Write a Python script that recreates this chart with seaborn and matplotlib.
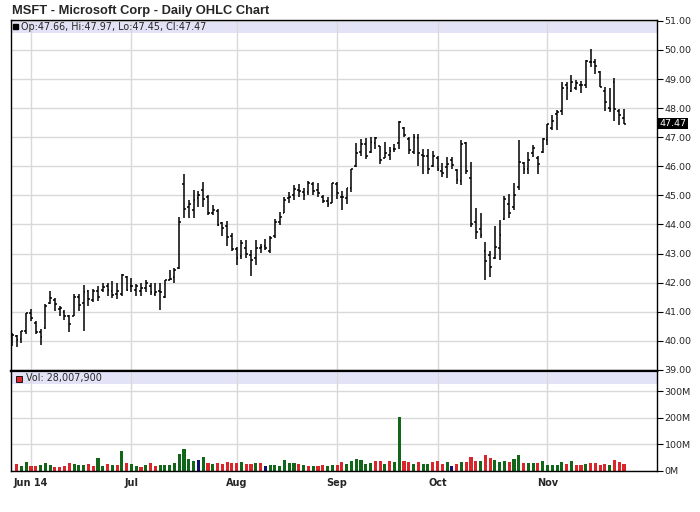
import numpy as np
import pandas as pd
import seaborn as sns
import matplotlib
matplotlib.use("Agg")
import matplotlib.pyplot as plt
from matplotlib.patches import Rectangle
from matplotlib.lines import Line2D

# trading days, 27 May 2014 - 25 Nov 2014 (market holidays removed)
holidays = pd.to_datetime(["2014-07-04", "2014-09-01"])
dates = pd.bdate_range("2014-05-27", "2014-11-25")
dates = dates[~dates.isin(holidays)]

opens = [39.95, 40.15, 40.05, 40.35, 40.95, 40.60, 40.30, 40.45, 41.30, 41.40,
         41.10, 41.00, 40.85, 40.85, 41.50, 41.30, 41.70, 41.40, 41.70, 41.75,
         41.90, 41.70, 41.60, 41.60, 42.20, 41.90, 41.75, 41.70, 41.80, 41.90,
         41.60, 41.70, 41.50, 42.10, 42.20, 42.50, 45.40, 44.60, 44.50, 44.90,
         45.20, 44.95, 44.40, 44.45, 44.05, 43.95, 43.60, 43.15, 42.90, 43.20,
         42.95, 42.85, 43.20, 43.25, 43.10, 43.60, 44.10, 44.40, 44.90, 45.00,
         45.20, 45.10, 45.10, 45.40, 45.20, 44.95, 44.80, 44.75, 45.40, 44.95,
         44.90, 45.25, 46.00, 46.50, 46.75, 46.50, 46.80, 46.70, 46.30, 46.40,
         46.60, 46.80, 47.30, 46.95, 46.48, 46.98, 46.40, 46.35, 46.00, 46.27,
         45.83, 45.98, 46.20, 45.86, 45.48, 46.80, 45.60, 44.10, 43.83, 43.10,
         42.95, 42.85, 43.20, 44.20, 44.70, 44.60, 45.30, 46.10, 45.90, 46.45,
         46.30, 46.50, 46.90, 47.30, 47.80, 47.90, 48.80, 48.60, 48.70, 48.80,
         48.80, 49.60, 49.60, 49.25, 48.60, 48.00, 48.90, 47.90, 47.66]
highs = [40.28, 40.20, 40.33, 40.96, 41.10, 40.67, 40.39, 41.28, 41.70, 41.47,
         41.19, 41.07, 40.90, 41.60, 41.62, 41.93, 41.76, 41.78, 41.87, 42.00,
         41.99, 42.07, 42.00, 42.30, 42.24, 42.16, 41.96, 42.00, 42.10, 42.00,
         41.99, 42.00, 42.10, 42.44, 42.50, 44.27, 45.73, 44.84, 45.18, 45.16,
         45.46, 45.00, 44.67, 44.52, 44.10, 44.13, 43.70, 43.24, 43.47, 43.47,
         43.13, 43.47, 43.33, 43.49, 43.60, 44.18, 44.44, 44.95, 45.12, 45.37,
         45.40, 45.27, 45.50, 45.45, 45.43, 45.00, 44.95, 45.44, 45.47, 45.15,
         45.26, 45.92, 46.79, 46.94, 46.97, 47.00, 47.02, 46.71, 46.82, 46.67,
         46.77, 47.57, 47.34, 47.00, 47.10, 47.10, 46.59, 46.59, 46.54, 46.37,
         46.11, 46.32, 46.31, 45.92, 46.89, 46.83, 46.14, 44.55, 44.40, 43.38,
         43.10, 43.94, 44.15, 44.98, 45.06, 45.43, 46.89, 46.13, 46.50, 46.73,
         46.37, 46.98, 47.46, 47.75, 47.92, 48.89, 48.89, 49.15, 48.95, 48.93,
         49.66, 50.03, 49.69, 49.29, 48.72, 48.70, 49.04, 47.98, 47.97]
lows = [39.82, 39.80, 39.93, 40.22, 40.67, 40.22, 39.85, 40.39, 41.25, 41.02,
        40.85, 40.73, 40.30, 40.85, 41.02, 40.33, 41.19, 41.32, 41.36, 41.67,
        41.55, 41.47, 41.42, 41.53, 41.70, 41.67, 41.53, 41.55, 41.67, 41.59,
        41.53, 41.05, 41.47, 42.08, 42.00, 42.47, 44.21, 44.21, 44.21, 44.59,
        44.61, 44.32, 44.32, 43.95, 43.60, 43.26, 43.10, 42.60, 42.81, 42.84,
        42.21, 42.61, 43.03, 43.13, 43.03, 43.53, 43.98, 44.38, 44.72, 44.84,
        44.95, 44.84, 45.00, 45.00, 44.95, 44.72, 44.61, 44.72, 44.86, 44.50,
        44.71, 45.10, 45.97, 46.37, 46.25, 46.45, 46.59, 46.08, 46.29, 46.22,
        46.48, 46.59, 46.99, 46.42, 46.42, 46.02, 45.74, 45.74, 45.97, 45.85,
        45.63, 45.61, 45.92, 45.38, 45.34, 45.75, 43.92, 43.49, 43.55, 42.09,
        42.20, 42.80, 42.79, 44.15, 44.21, 44.49, 45.18, 45.72, 45.75, 46.33,
        45.75, 46.46, 46.72, 47.26, 47.26, 47.78, 48.29, 48.55, 48.61, 48.51,
        48.70, 49.41, 49.18, 48.72, 47.90, 47.86, 47.55, 47.41, 47.45]
closes = [40.19, 40.02, 40.34, 40.94, 40.79, 40.29, 40.12, 41.20, 41.48, 41.27,
          41.11, 40.86, 40.58, 41.50, 41.23, 41.68, 41.43, 41.71, 41.50, 41.85,
          41.74, 41.59, 41.70, 42.25, 41.73, 41.87, 41.90, 41.80, 41.99, 41.69,
          41.67, 41.69, 42.09, 42.14, 42.45, 44.08, 44.53, 44.69, 44.84, 45.00,
          44.87, 44.40, 44.50, 43.97, 43.89, 43.58, 43.16, 42.86, 43.37, 42.98,
          42.76, 43.20, 43.23, 43.20, 43.52, 44.08, 44.27, 44.83, 44.95, 45.22,
          45.16, 45.02, 45.43, 45.16, 45.07, 44.79, 44.69, 45.43, 45.09, 44.96,
          45.25, 45.91, 46.47, 46.76, 46.36, 46.84, 46.96, 46.21, 46.44, 46.52,
          46.58, 47.52, 47.06, 46.56, 47.00, 46.44, 46.36, 45.90, 46.36, 45.90,
          45.76, 46.09, 46.05, 45.53, 46.78, 45.85, 44.03, 43.73, 43.63, 42.74,
          42.53, 43.23, 43.63, 44.88, 44.38, 45.02, 46.13, 45.91, 46.23, 46.62,
          46.09, 46.95, 47.44, 47.57, 47.86, 48.70, 48.68, 48.89, 48.87, 48.78,
          49.61, 49.58, 49.46, 48.74, 48.22, 47.98, 47.98, 47.75, 47.47]

# volume in millions, from 28 May (first day has no volume bar on the chart)
volume = [27, 19, 34, 19, 19, 23, 30, 23, 15, 15,
          19, 30, 27, 23, 23, 27, 19, 49, 19, 27,
          23, 23, 76, 30, 27, 19, 15, 23, 30, 19,
          23, 23, 23, 30, 65, 84, 46, 38, 42, 53,
          30, 27, 30, 27, 34, 30, 30, 34, 27, 27,
          30, 30, 19, 23, 23, 19, 42, 30, 30, 27,
          23, 19, 19, 19, 23, 19, 23, 23, 34, 27,
          38, 46, 42, 27, 30, 38, 38, 27, 38, 34,
          204, 38, 34, 27, 34, 27, 27, 34, 38, 27,
          34, 19, 27, 34, 34, 53, 38, 38, 61, 49,
          42, 34, 38, 34, 46, 61, 30, 30, 30, 30,
          38, 23, 23, 23, 34, 27, 38, 23, 23, 27,
          30, 30, 23, 27, 23, 42, 34, 28]
# g = up day, r = down day, n = unchanged
vol_dir = "".join(["rggrrgggrr", "rrgggrrggr", "grgrggrgrr", "ggggggggng",
                   "rgrrrrrgrr", "grnggggggr", "grgrrggrrg", "gggggrrgrg",
                   "grrgrggrrr", "gnrgrrrgrr", "gggrggrggr", "gggggrgrrg",
                   "rrrrgrrr"])

month_labels = ["Jun 14", "Jul", "Aug", "Sep", "Oct", "Nov"]

pos = np.arange(len(dates))
month_pos = [i for i in range(1, len(dates)) if dates[i].month != dates[i - 1].month]

sns.set_style("white")
plt.rcParams["font.family"] = ["DejaVu Sans"]

green, red, navy = "#11661a", "#d8262a", "#10106e"
grid_c = "#d9d9d9"
band_c = "#e3e3f8"

fig = plt.figure(figsize=(7, 5.12), dpi=100)
L, R = 10.7 / 700, 657 / 700
axp = fig.add_axes([L, 1 - 371 / 512, R - L, 351 / 512])
axv = fig.add_axes([L, 1 - 471 / 512, R - L, 100 / 512])

# price panel
axp.vlines(pos, lows, highs, color="black", lw=1.1, zorder=3)
axp.hlines(opens, pos - 0.38, pos, color="black", lw=1.1, zorder=3)
axp.hlines(closes, pos, pos + 0.38, color="black", lw=1.1, zorder=3)
axp.set_ylim(38.96, 51.03)
axp.set_yticks(np.arange(39, 52))
axp.set_yticklabels([f"{v:.2f}" for v in np.arange(39, 52)])
axp.add_patch(Rectangle((0, 1 - 13 / 351), 1, 13 / 351, transform=axp.transAxes,
                        facecolor=band_c, edgecolor="none", zorder=0.2))
axp.text(1.004, closes[-1], f"{closes[-1]:.2f}", transform=axp.get_yaxis_transform(),
         ha="left", va="center", color="white", fontsize=6.8, zorder=10, clip_on=False,
         bbox=dict(boxstyle="square,pad=0.15", fc="black", ec="none"))

# volume panel
vol_df = pd.DataFrame({"pos": pos[1:], "vol": volume, "dir": list(vol_dir)})
sns.barplot(data=vol_df, x="pos", y="vol", hue="dir", palette={"g": green, "r": red, "n": navy},
            native_scale=True, dodge=False, width=0.65, saturation=1, errorbar=None,
            legend=False, linewidth=0, ax=axv)
axv.set_ylim(0, 376)
axv.set_yticks([0, 100, 200, 300])
axv.set_yticklabels(["0M", "100M", "200M", "300M"])
axv.add_patch(Rectangle((0, 0.87), 1, 0.13, transform=axv.transAxes,
                        facecolor=band_c, edgecolor="none", zorder=0.2))
axv.set_xlabel("")
axv.set_ylabel("")

for ax in (axp, axv):
    ax.set_xlim(-0.25, 134.9)
    ax.set_xticks(month_pos)
    ax.set_axisbelow(True)
    ax.grid(True, color=grid_c, lw=1)
    ax.yaxis.tick_right()
    ax.tick_params(axis="y", direction="out", length=4, width=0.8, color="black",
                   labelsize=6.8, pad=1.5, left=False, right=True)
    for s in ax.spines.values():
        s.set_color("black")
        s.set_linewidth(1)
axp.tick_params(axis="x", length=0, labelbottom=False)
axv.set_xticklabels(month_labels, fontweight="bold", fontsize=7)
axv.tick_params(axis="x", direction="out", length=3, width=0.8, color="black", pad=2)
axp.spines["bottom"].set_linewidth(1.6)
axv.spines["top"].set_linewidth(1.6)

fig.text(12 / 700, 1 - 11 / 512, "MSFT - Microsoft Corp - Daily OHLC Chart",
         fontsize=9.3, fontweight="bold", family=["Liberation Sans", "DejaVu Sans"], va="center")
fig.add_artist(Line2D([15 / 700], [1 - 26 / 512], marker="s", ms=3.6, color="black",
                      transform=fig.transFigure))
fig.text(21 / 700, 1 - 26.5 / 512,
         f"Op:{opens[-1]:.2f}, Hi:{highs[-1]:.2f}, Lo:{lows[-1]:.2f}, Cl:{closes[-1]:.2f}",
         fontsize=6.9, va="center")
fig.add_artist(Line2D([19 / 700], [1 - 378.5 / 512], marker="s", ms=4.6, mfc=red, mec="black",
                      mew=0.6, transform=fig.transFigure))
fig.text(26 / 700, 1 - 378.5 / 512, "Vol: 28,007,900", fontsize=6.9, va="center")

fig.savefig("out.png", dpi=100)
